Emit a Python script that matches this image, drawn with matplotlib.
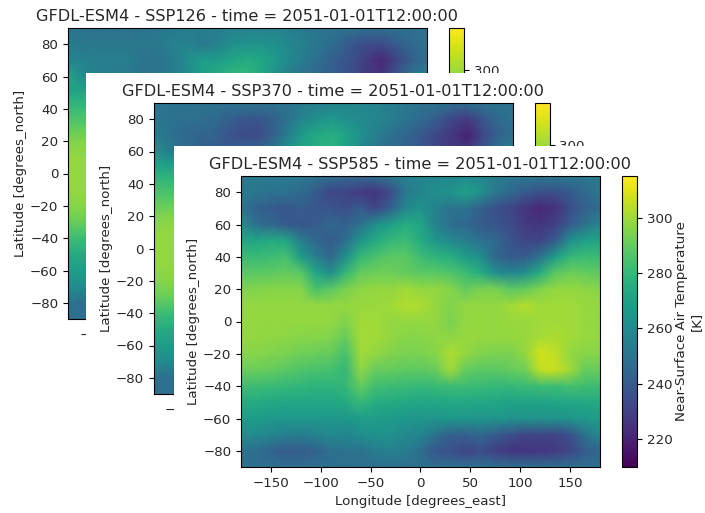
import numpy as np
import matplotlib
matplotlib.use("Agg")
import matplotlib.pyplot as plt
from matplotlib.patches import Rectangle

# grid of the maps, values
lon = [-180, -165, -150, -135, -120, -105, -90, -75, -60, -45, -30, -15, 0, 15, 30, 45, 60, 75, 90, 105, 120, 135, 150, 165, 180]
lat = [90, 80, 70, 60, 50, 40, 30, 20, 10, 0, -10, -20, -30, -40, -50, -60, -70, -80, -90]

# near-surface air temperature [K], SSP585, one row per latitude
tas_585 = [
    [252, 252, 252, 252, 252, 250, 248, 246, 246, 248, 252, 256, 258, 258, 258, 260, 258, 254, 252, 252, 252, 252, 252, 252, 252],
    [253, 252, 250, 249, 247, 240, 232, 232, 228, 226, 234, 252, 258, 262, 264, 270, 264, 252, 246, 240, 236, 236, 240, 246, 252],
    [250, 243, 240, 238, 240, 238, 238, 235, 240, 232, 242, 258, 264, 256, 250, 250, 242, 236, 232, 226, 222, 225, 235, 242, 247],
    [263, 248, 245, 240, 238, 240, 245, 242, 250, 262, 270, 275, 272, 256, 248, 245, 240, 238, 234, 228, 226, 230, 240, 250, 258],
    [272, 272, 274, 272, 255, 245, 240, 248, 265, 274, 280, 282, 274, 266, 260, 255, 250, 246, 238, 232, 232, 240, 262, 270, 272],
    [281, 281, 282, 284, 268, 255, 245, 262, 280, 285, 288, 288, 282, 278, 276, 268, 262, 245, 240, 240, 250, 268, 280, 282, 281],
    [288, 288, 289, 290, 288, 272, 262, 280, 290, 292, 292, 290, 288, 288, 286, 282, 275, 262, 258, 262, 275, 288, 292, 290, 289],
    [295, 295, 296, 296, 296, 285, 288, 294, 297, 298, 298, 300, 298, 298, 296, 290, 294, 294, 288, 290, 295, 298, 298, 297, 296],
    [298, 298, 298, 298, 298, 298, 298, 298, 299, 299, 300, 303, 302, 298, 295, 298, 298, 298, 300, 303, 300, 300, 300, 299, 298],
    [298, 298, 298, 298, 298, 298, 298, 295, 300, 300, 298, 298, 298, 298, 294, 298, 298, 298, 299, 299, 300, 300, 300, 299, 298],
    [298, 298, 297, 297, 296, 296, 295, 290, 301, 300, 298, 296, 296, 297, 297, 299, 298, 298, 298, 299, 301, 302, 300, 299, 298],
    [296, 296, 295, 294, 292, 291, 290, 284, 300, 298, 295, 294, 294, 296, 302, 298, 295, 294, 294, 298, 308, 305, 298, 296, 296],
    [291, 291, 290, 288, 286, 285, 284, 280, 297, 290, 290, 289, 289, 290, 300, 290, 288, 288, 290, 292, 305, 306, 300, 290, 291],
    [282, 282, 281, 280, 279, 278, 278, 280, 290, 283, 282, 281, 280, 281, 282, 282, 281, 280, 280, 281, 282, 282, 284, 283, 282],
    [274, 274, 273, 272, 272, 272, 272, 274, 280, 275, 274, 273, 272, 272, 273, 273, 272, 272, 271, 271, 271, 272, 272, 273, 274],
    [268, 268, 267, 266, 266, 266, 266, 266, 268, 268, 267, 266, 265, 265, 266, 266, 265, 265, 264, 264, 264, 264, 265, 267, 268],
    [262, 260, 258, 255, 254, 256, 260, 258, 262, 264, 263, 260, 258, 250, 242, 242, 245, 240, 236, 232, 232, 232, 236, 250, 260],
    [250, 248, 244, 240, 240, 244, 248, 250, 250, 254, 256, 254, 248, 238, 236, 232, 235, 230, 226, 226, 226, 228, 232, 240, 245],
    [248, 248, 248, 248, 248, 248, 248, 248, 248, 248, 248, 248, 248, 248, 248, 248, 248, 248, 248, 248, 248, 248, 248, 248, 248],
]

# the other two maps only show their northern rows, the rest sits behind the next panel
tas_370_north = [
    [250, 250, 250, 250, 250, 250, 250, 250, 250, 250, 252, 254, 256, 258, 258, 256, 254, 252, 250, 250, 248, 248, 250, 250, 250],
    [252, 250, 248, 248, 246, 242, 238, 238, 242, 250, 258, 264, 266, 262, 260, 258, 254, 250, 246, 240, 232, 228, 238, 246, 250],
    [254, 250, 246, 244, 244, 238, 234, 234, 242, 255, 268, 274, 276, 270, 262, 254, 248, 244, 238, 232, 226, 220, 232, 242, 248],
    [266, 254, 248, 244, 240, 240, 244, 245, 252, 264, 272, 276, 278, 270, 258, 250, 246, 242, 238, 232, 228, 228, 240, 250, 258],
]
tas_126_north = [
    [250, 250, 250, 250, 250, 250, 252, 252, 254, 254, 254, 256, 256, 256, 256, 254, 252, 250, 250, 250, 248, 248, 250, 250, 250],
    [254, 252, 252, 252, 252, 252, 252, 256, 256, 252, 256, 262, 264, 264, 262, 258, 254, 250, 246, 238, 234, 234, 240, 246, 250],
    [258, 256, 254, 254, 254, 250, 250, 254, 262, 268, 268, 272, 274, 272, 266, 258, 252, 246, 240, 236, 228, 222, 232, 242, 248],
    [272, 260, 256, 254, 252, 250, 250, 254, 260, 270, 276, 280, 280, 272, 260, 252, 248, 244, 240, 234, 228, 226, 240, 250, 258],
]

titles = ["GFDL-ESM4 - SSP126 - time = 2051-01-01T12:00:00",
          "GFDL-ESM4 - SSP370 - time = 2051-01-01T12:00:00",
          "GFDL-ESM4 - SSP585 - time = 2051-01-01T12:00:00"]

W, H = 705, 513
tas_585 = np.array(tas_585)
maps = [np.vstack([tas_126_north, tas_585[4:]]),
        np.vstack([tas_370_north, tas_585[4:]]),
        tas_585]

plt.rcParams["font.size"] = 9.6
plt.rcParams["text.color"] = "#262626"
plt.rcParams["axes.labelcolor"] = "#262626"
plt.rcParams["xtick.labelcolor"] = "#262626"
plt.rcParams["ytick.labelcolor"] = "#262626"

fig = plt.figure(figsize=(W / 100, H / 100), dpi=100)


def px_axes(x0, x1, y0, y1, z):
    return fig.add_axes([x0 / W, 1 - y1 / H, (x1 - x0) / W, (y1 - y0) / H], zorder=z)


# pixel boxes: map left, map top, white panel left, white panel top
boxes = [(68, 28, 0, 0), (153.5, 103, 86, 73), (241, 176, 174, 146)]

for i in range(3):
    left, top, pl, pt = boxes[i]
    z = i * 2 + 1
    if i > 0:
        fig.add_artist(Rectangle((pl / W, 0), 1 - pl / W, 1 - pt / H, transform=fig.transFigure,
                                 facecolor="white", edgecolor="none", zorder=z))
    ax = px_axes(left, left + 359, top, top + 291, z + 1)
    cax = px_axes(left + 381, left + 396, top, top + 291, z + 1)
    mesh = ax.pcolormesh(lon, lat, maps[i], cmap="viridis", vmin=210, vmax=315, shading="gouraud")
    ax.set_xlim(-180, 180)
    ax.set_ylim(-90, 90)
    ax.set_xticks([-150, -100, -50, 0, 50, 100, 150])
    ax.set_yticks([-80, -60, -40, -20, 0, 20, 40, 60, 80])
    ax.set_title(titles[i], fontsize=11.6, pad=5)
    ax.set_xlabel("Longitude [degrees_east]")
    ax.set_ylabel("Latitude [degrees_north]", labelpad=2)
    cb = fig.colorbar(mesh, cax=cax)
    cb.set_label("Near-Surface Air Temperature\n[K]", labelpad=2)
    cb.set_ticks([220, 240, 260, 280, 300])

fig.savefig("out.png", dpi=100)
